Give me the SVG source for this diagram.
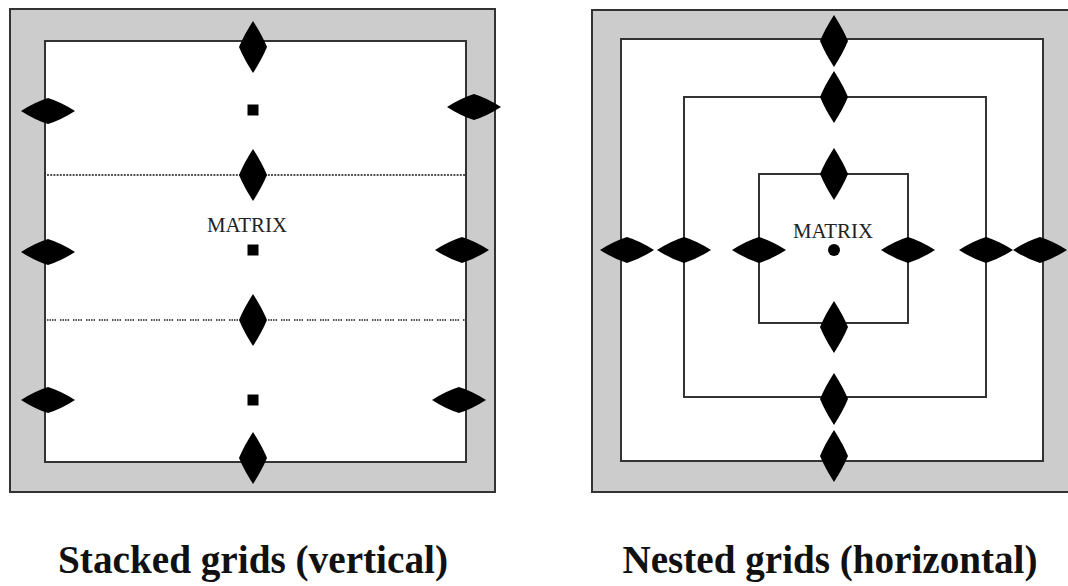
<svg xmlns="http://www.w3.org/2000/svg" width="1068" height="586" viewBox="0 0 1068 586">
<style>
.frame{fill:#cccccc;stroke:#333;stroke-width:2}
.panel{fill:#ffffff;stroke:#333;stroke-width:2}
.inner{fill:none;stroke:#333;stroke-width:2}
.dot1{stroke:#555;stroke-width:1.8;stroke-dasharray:2 1.2}
.dot2{stroke:#555;stroke-width:1.8;stroke-dasharray:1.5 1 1.5 1 1.5 1 1.5 4}
.lbl{font-family:"Liberation Serif","Times New Roman",serif;font-size:20px;fill:#222;text-anchor:middle}
.cap{font-family:"Liberation Serif","Times New Roman",serif;font-size:41px;font-weight:bold;fill:#111;text-anchor:middle}
</style>
<defs>
<path id="dh" d="M-27 0Q-13-9 0-13Q13-9 27 0Q13 9 0 13Q-13 9-27 0Z" fill="#000"/>
<path id="dv" d="M0-26Q-9-12-14 0Q-9 12 0 26Q9 12 14 0Q9-12 0-26Z" fill="#000"/>
</defs>
<rect width="1068" height="586" fill="#fff"/>

<g id="stacked">
<rect class="frame" x="10" y="9" width="485" height="483"/>
<rect class="panel" x="45" y="41" width="421" height="421"/>
<line class="dot1" x1="47" y1="175" x2="465" y2="175"/>
<line class="dot2" x1="47" y1="320" x2="465" y2="320"/>
<text class="lbl" x="247" y="232" textLength="80" lengthAdjust="spacingAndGlyphs">MATRIX</text>
</g>
<g id="stacked-markers">
<use href="#dv" x="253" y="47"/>
<rect x="247.5" y="104.5" width="11" height="11" fill="#000"/>
<use href="#dv" x="253" y="175"/>
<rect x="247.5" y="244.5" width="11" height="11" fill="#000"/>
<use href="#dv" x="253" y="320"/>
<rect x="247.5" y="394.5" width="11" height="11" fill="#000"/>
<use href="#dv" x="253" y="458"/>
<use href="#dh" x="48" y="111"/>
<use href="#dh" x="48" y="252"/>
<use href="#dh" x="48" y="400"/>
<use href="#dh" x="474" y="107"/>
<use href="#dh" x="462" y="250"/>
<use href="#dh" x="459" y="400"/>
</g>

<g id="nested">
<rect class="frame" x="592" y="10" width="480" height="482"/>
<rect class="panel" x="621" y="39" width="422" height="422"/>
<rect class="inner" x="684" y="97" width="302" height="300"/>
<rect class="inner" x="759" y="174" width="149" height="149"/>
<text class="lbl" x="833" y="238" textLength="80" lengthAdjust="spacingAndGlyphs">MATRIX</text>
</g>
<g id="nested-markers">
<use href="#dv" x="834" y="41"/>
<use href="#dv" x="834" y="97"/>
<use href="#dv" x="834" y="174"/>
<use href="#dv" x="834" y="327"/>
<use href="#dv" x="834" y="399"/>
<use href="#dv" x="834" y="456"/>
<circle cx="834" cy="250" r="6" fill="#000"/>
<use href="#dh" x="627" y="250"/>
<use href="#dh" x="684" y="250"/>
<use href="#dh" x="759" y="250"/>
<use href="#dh" x="908" y="250"/>
<use href="#dh" x="986" y="250"/>
<use href="#dh" x="1040" y="250"/>
</g>

<g id="captions">
<text class="cap" x="253" y="573" textLength="390" lengthAdjust="spacingAndGlyphs">Stacked grids (vertical)</text>
<text class="cap" x="830" y="573" textLength="415" lengthAdjust="spacingAndGlyphs">Nested grids (horizontal)</text>
</g>
</svg>
